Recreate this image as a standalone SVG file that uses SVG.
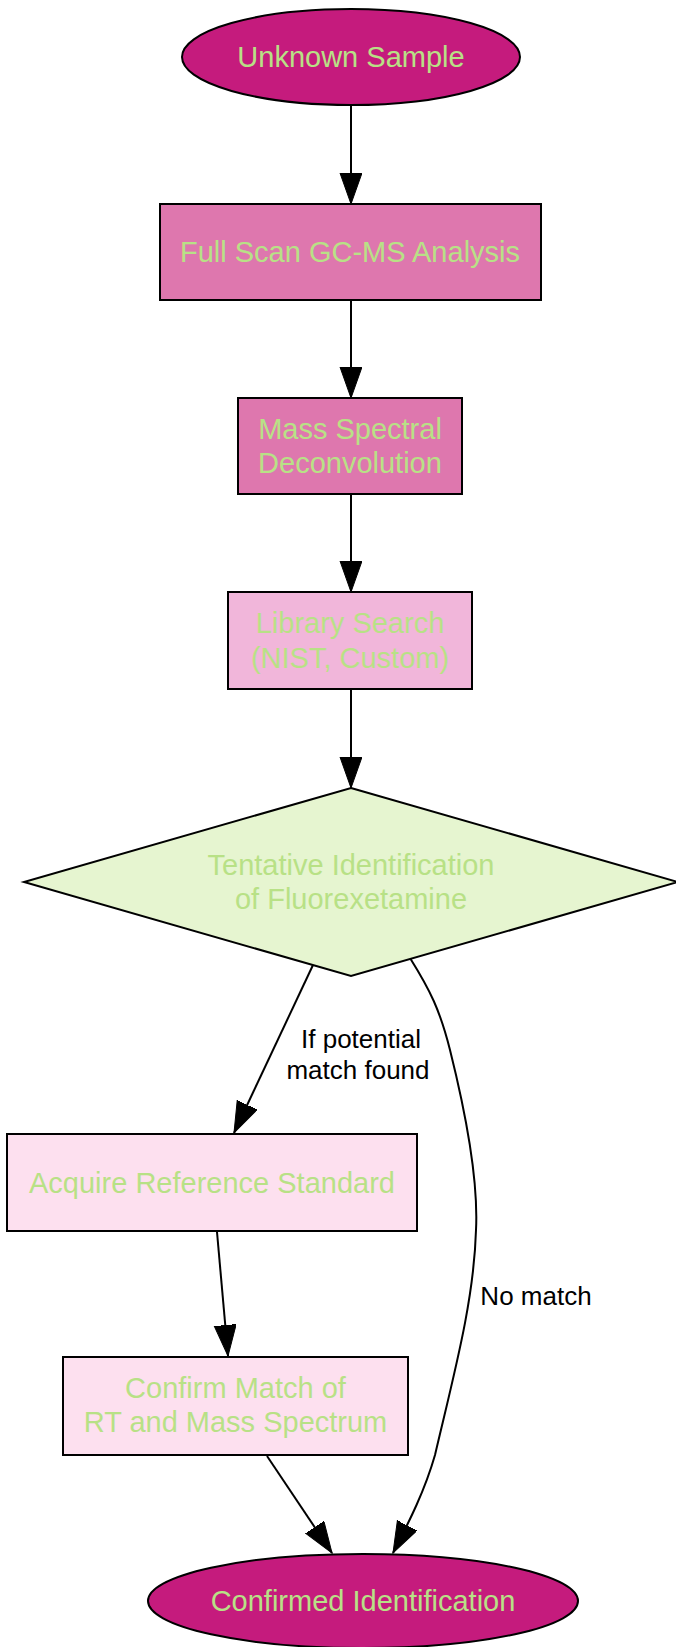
<svg xmlns="http://www.w3.org/2000/svg" width="676" height="1647" viewBox="0 0 676 1647">
<style>
.n{stroke:#000;stroke-width:2}
.t{font-family:"Liberation Sans",Arial,sans-serif;font-size:29px;fill:#b8e186;text-anchor:middle}
.e{fill:none;stroke:#000;stroke-width:2}
.l{font-family:"Liberation Sans",Arial,sans-serif;font-size:26px;fill:#000;text-anchor:middle}
</style>
<defs>
<marker id="ah" markerUnits="userSpaceOnUse" markerWidth="32" markerHeight="24" refX="31" refY="11" orient="auto">
<path d="M0,0 L31,11 L0,22 z" fill="#000" stroke="#000" stroke-width="1"/>
</marker>
</defs>
<rect width="676" height="1647" fill="#fff"/>
<g id="connectors">
<path class="e" d="M351,105 L351,204" marker-end="url(#ah)"/>
<path class="e" d="M351,300 L351,398" marker-end="url(#ah)"/>
<path class="e" d="M351,494 L351,592" marker-end="url(#ah)"/>
<path class="e" d="M351,689 L351,788" marker-end="url(#ah)"/>
<path class="e" d="M313,965 L234,1133" marker-end="url(#ah)"/>
<path class="e" d="M410,958 C430,990 440,1010 450,1050 C470,1130 478,1190 476,1230 C474,1300 455,1370 435,1455 C425,1490 410,1520 393,1553" marker-end="url(#ah)"/>
<path class="e" d="M217,1232 L228,1356" marker-end="url(#ah)"/>
<path class="e" d="M267,1456 L332,1553" marker-end="url(#ah)"/>
<text class="l" x="361" y="1048">If potential</text>
<text class="l" x="358" y="1079">match found</text>
<text class="l" x="536" y="1305">No match</text>
</g>
<g id="unknown">
<ellipse class="n" cx="351" cy="57" rx="169" ry="48" fill="#c51b7d"/>
<text class="t" x="351" y="67">Unknown Sample</text>
</g>
<g id="fullscan">
<rect class="n" x="160" y="204" width="381" height="96" fill="#de77ae"/>
<text class="t" x="350" y="262">Full Scan GC-MS Analysis</text>
</g>
<g id="deconv">
<rect class="n" x="238" y="398" width="224" height="96" fill="#de77ae"/>
<text class="t" x="350" y="438.6">Mass Spectral</text>
<text class="t" x="350" y="473.4">Deconvolution</text>
</g>
<g id="library">
<rect class="n" x="228" y="592" width="244" height="97" fill="#f1b6da"/>
<text class="t" x="350" y="633">Library Search</text>
<text class="t" x="350" y="668">(NIST, Custom)</text>
</g>
<g id="tentative">
<polygon class="n" points="351,788 678,882 351,976 24,882" fill="#e6f5d0"/>
<text class="t" x="351" y="874.6">Tentative Identification</text>
<text class="t" x="351" y="909.4">of Fluorexetamine</text>
</g>
<g id="acquire">
<rect class="n" x="7" y="1134" width="410" height="97" fill="#fde0ef"/>
<text class="t" x="212" y="1193">Acquire Reference Standard</text>
</g>
<g id="confirm">
<rect class="n" x="63" y="1357" width="345" height="98" fill="#fde0ef"/>
<text class="t" x="235.5" y="1397.6">Confirm Match of</text>
<text class="t" x="235.5" y="1432.4">RT and Mass Spectrum</text>
</g>
<g id="confirmed">
<ellipse class="n" cx="363" cy="1601" rx="215" ry="47" fill="#c51b7d"/>
<text class="t" x="363" y="1611">Confirmed Identification</text>
</g>
</svg>
